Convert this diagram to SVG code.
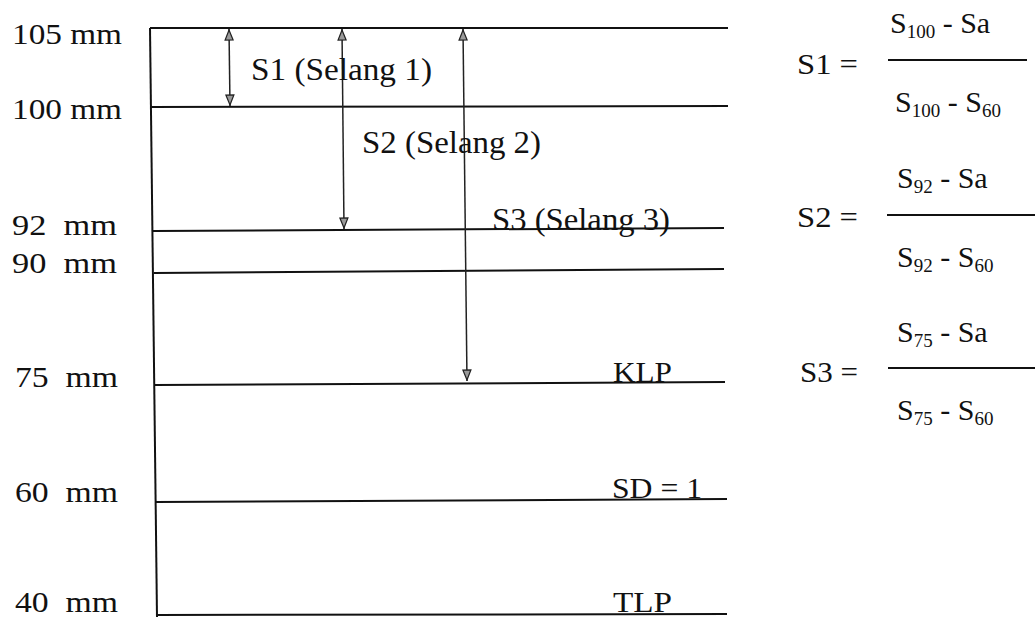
<svg xmlns="http://www.w3.org/2000/svg" width="1035" height="617" viewBox="0 0 1035 617">
<style>
text{font-family:"Liberation Serif","Times New Roman",serif;fill:#111}
.lv{font-size:30px}
.sl{font-size:31px}
.fx{font-size:30px}
.sub{font-size:19px}
.hl{stroke:#111;stroke-width:2;fill:none}
.ar{stroke:#222;stroke-width:1.5;fill:none;marker-start:url(#hd);marker-end:url(#hd)}
</style>
<defs>
<marker id="hd" viewBox="0 0 12 10" refX="12" refY="5" markerWidth="12" markerHeight="10" markerUnits="userSpaceOnUse" orient="auto-start-reverse">
<path d="M1,1 L11,5 L1,9 Z" fill="#9a9a9a" stroke="#222" stroke-width="1.2"/>
</marker>
</defs>
<rect width="1035" height="617" fill="#fff"/>

<g id="axis">
<line class="hl" x1="150" y1="28" x2="157" y2="617"/>
</g>

<g id="level-105"><line class="hl" x1="150" y1="28" x2="728" y2="28"/><text class="lv" x="12" y="44" textLength="110" lengthAdjust="spacingAndGlyphs">105 mm</text></g>
<g id="level-100"><line class="hl" x1="151" y1="107" x2="728" y2="106"/><text class="lv" x="12" y="119" textLength="110" lengthAdjust="spacingAndGlyphs">100 mm</text></g>
<g id="level-92"><line class="hl" x1="153" y1="231" x2="724" y2="228"/><text class="lv" x="12" y="235" textLength="105" lengthAdjust="spacingAndGlyphs" xml:space="preserve">92  mm</text><text class="sl" x="492" y="230" textLength="178" lengthAdjust="spacingAndGlyphs">S3 (Selang 3)</text></g>
<g id="level-90"><line class="hl" x1="154" y1="273" x2="724" y2="269"/><text class="lv" x="12" y="273" textLength="105" lengthAdjust="spacingAndGlyphs" xml:space="preserve">90  mm</text></g>
<g id="level-75"><line class="hl" x1="155" y1="385" x2="725" y2="382"/><text class="lv" x="15" y="387" textLength="103" lengthAdjust="spacingAndGlyphs" xml:space="preserve">75  mm</text><text class="lv" x="613" y="382" textLength="59" lengthAdjust="spacingAndGlyphs">KLP</text></g>
<g id="level-60"><line class="hl" x1="156" y1="502" x2="727" y2="499"/><text class="lv" x="15" y="502" textLength="103" lengthAdjust="spacingAndGlyphs" xml:space="preserve">60  mm</text><text class="lv" x="612" y="498" textLength="90" lengthAdjust="spacingAndGlyphs">SD = 1</text></g>
<g id="level-40"><line class="hl" x1="157" y1="615" x2="727" y2="614"/><text class="lv" x="15" y="612" textLength="103" lengthAdjust="spacingAndGlyphs" xml:space="preserve">40  mm</text><text class="lv" x="613" y="612" textLength="59" lengthAdjust="spacingAndGlyphs">TLP</text></g>

<g id="connectors">
<line class="ar" x1="229" y1="29" x2="230" y2="106"/>
<line class="ar" x1="342" y1="29" x2="344" y2="229"/>
<line class="ar" x1="463" y1="29" x2="467" y2="381"/>
</g>

<g id="label-s1"><text class="sl" x="251" y="80" textLength="181" lengthAdjust="spacingAndGlyphs">S1 (Selang 1)</text></g>
<g id="label-s2"><text class="sl" x="362" y="153" textLength="179" lengthAdjust="spacingAndGlyphs">S2 (Selang 2)</text></g>

<g id="formula-s1">
<text class="fx" x="797" y="74" textLength="61" lengthAdjust="spacingAndGlyphs">S1 =</text>
<line class="hl" x1="888" y1="60" x2="1027" y2="60"/>
<text class="fx" x="890" y="33">S<tspan class="sub" dy="5">100</tspan><tspan dy="-5"> - Sa</tspan></text>
<text class="fx" x="895" y="112">S<tspan class="sub" dy="5">100</tspan><tspan dy="-5"> - S</tspan><tspan class="sub" dy="5">60</tspan></text>
</g>
<g id="formula-s2">
<text class="fx" x="797" y="227" textLength="61" lengthAdjust="spacingAndGlyphs">S2 =</text>
<line class="hl" x1="887" y1="215" x2="1035" y2="215"/>
<text class="fx" x="897" y="188">S<tspan class="sub" dy="5">92</tspan><tspan dy="-5"> - Sa</tspan></text>
<text class="fx" x="897" y="267">S<tspan class="sub" dy="5">92</tspan><tspan dy="-5"> - S</tspan><tspan class="sub" dy="5">60</tspan></text>
</g>
<g id="formula-s3">
<text class="fx" x="800" y="382" textLength="58" lengthAdjust="spacingAndGlyphs">S3 =</text>
<line class="hl" x1="888" y1="368" x2="1035" y2="368"/>
<text class="fx" x="897" y="342">S<tspan class="sub" dy="5">75</tspan><tspan dy="-5"> - Sa</tspan></text>
<text class="fx" x="897" y="420">S<tspan class="sub" dy="5">75</tspan><tspan dy="-5"> - S</tspan><tspan class="sub" dy="5">60</tspan></text>
</g>
</svg>
